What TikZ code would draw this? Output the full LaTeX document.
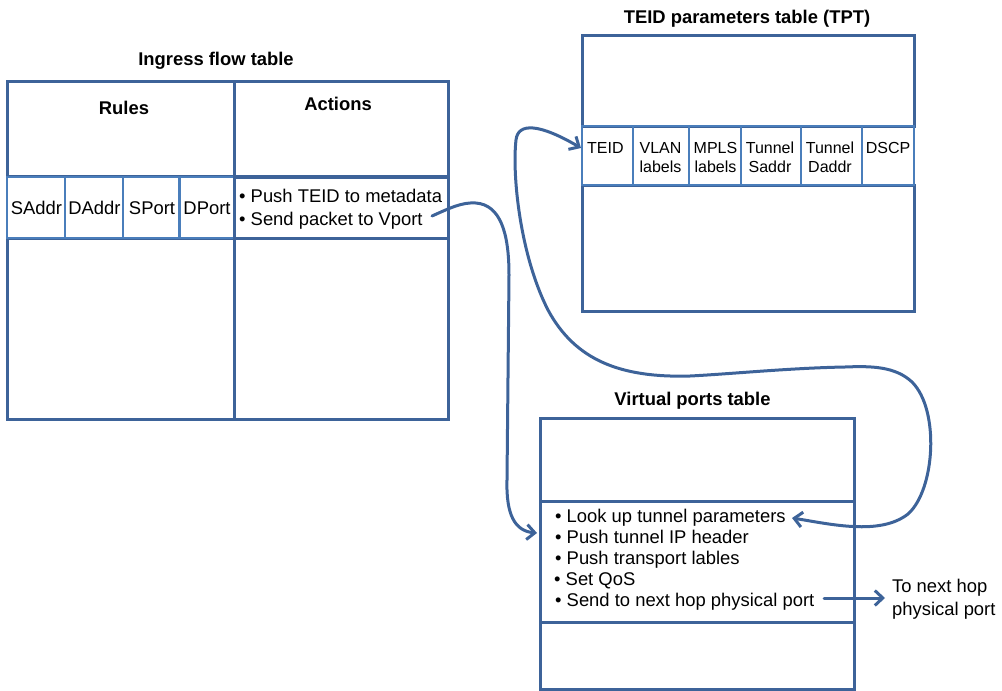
\documentclass[tikz,border=0pt]{standalone}
\usepackage{fontspec}
\setmainfont{Liberation Sans}
\usetikzlibrary{arrows.meta}
\definecolor{dk}{RGB}{61,99,153}
\definecolor{lt}{RGB}{74,126,187}
\begin{document}
\begin{tikzpicture}[x=1pt,y=-1pt,
  box/.style={draw=dk,line width=3pt,inner sep=0pt,outer sep=0pt,anchor=north west},
  cell/.style={draw=lt,line width=2.8pt,inner sep=0pt,outer sep=0pt,anchor=north west},
  big/.style={font=\fontsize{18.4}{21}\selectfont,inner sep=0pt},
  bigb/.style={font=\fontsize{18.4}{21}\selectfont\bfseries,inner sep=0pt},
  small/.style={font=\fontsize{16}{19}\selectfont,inner sep=0pt},
  conn/.style={draw=dk,line width=3pt,line cap=round},
  barb/.tip={Straight Barb[length=8pt,width=15pt]}]
\useasboundingbox (0,0) rectangle (1002,691);

% ---------- Ingress flow table ----------
\node[bigb,anchor=base] (ingt) at (216,65) {Ingress flow table};
\node[box,minimum width=227pt,minimum height=95pt] (rules) at (7,81) {};
\node[box,minimum width=214pt,minimum height=95pt] (actions) at (234,81) {};
\node[box,minimum width=214pt,minimum height=61pt] (actcell) at (234,177) {};
\node[box,minimum width=227pt,minimum height=181pt] (ingl) at (7,238) {};
\node[box,minimum width=214pt,minimum height=181pt] (ingr) at (234,238) {};
\node[cell,minimum width=58pt,minimum height=61pt] (c1) at (7,177) {};
\node[cell,minimum width=58pt,minimum height=61pt] (c2) at (65,177) {};
\node[cell,minimum width=56pt,minimum height=61pt] (c3) at (123,177) {};
\node[cell,minimum width=54pt,minimum height=61pt] (c4) at (180,177) {};
\draw[dk,line width=3pt] (234,81) -- (234,419);

\node[bigb,anchor=base] (rulest) at (124,114) {Rules};
\node[bigb,anchor=base] (actionst) at (338,110.5) {Actions};
\node[big,anchor=base] (saddr) at (36.5,214) {SAddr};
\node[big,anchor=base] (daddr) at (94.5,214) {DAddr};
\node[big,anchor=base] (sport) at (152,214) {SPort};
\node[big,anchor=base] (dport) at (207,214) {DPort};
\node[big,anchor=base west] (push) at (239,202.5) {• Push TEID to metadata};
\node[big,anchor=base west] (send) at (239,225) {• Send packet to Vport};

% ---------- TEID parameters table ----------
\node[bigb,anchor=base] (tptt) at (747,23.5) {TEID parameters table (TPT)};
\node[box,minimum width=332pt,minimum height=91pt] (tpttop) at (582,35) {};
\node[box,minimum width=332pt,minimum height=126pt] (tptbot) at (582,185) {};
\node[cell,minimum width=51pt,minimum height=59pt] (t1) at (582,126) {};
\node[cell,minimum width=56pt,minimum height=59pt] (t2) at (633,126) {};
\node[cell,minimum width=52pt,minimum height=59pt] (t3) at (689,126) {};
\node[cell,minimum width=60pt,minimum height=59pt] (t4) at (741,126) {};
\node[cell,minimum width=61pt,minimum height=59pt] (t5) at (801,126) {};
\node[cell,minimum width=52pt,minimum height=59pt] (t6) at (862,126) {};
\node[small,anchor=base west] (teid) at (587,153) {TEID};
\node[small,anchor=base] (vlan1) at (660.5,153) {VLAN};
\node[small,anchor=base] (vlan2) at (660.5,172.5) {labels};
\node[small,anchor=base] (mpls1) at (715.5,153) {MPLS};
\node[small,anchor=base] (mpls2) at (715.5,172.5) {labels};
\node[small,anchor=base] (ts1) at (770,153) {Tunnel};
\node[small,anchor=base] (ts2) at (770,172.5) {Saddr};
\node[small,anchor=base] (td1) at (830,153) {Tunnel};
\node[small,anchor=base] (td2) at (830,172.5) {Daddr};
\node[small,anchor=base] (dscp) at (888,153) {DSCP};

% ---------- Virtual ports table ----------
\node[bigb,anchor=base] (vpt) at (692.5,405) {Virtual ports table};
\node[box,minimum width=314pt,minimum height=83pt] (vptop) at (540,418) {};
\node[box,minimum width=314pt,minimum height=121pt] (vpmid) at (540,501) {};
\node[box,minimum width=314pt,minimum height=67pt] (vpbot) at (540,622) {};
\node[big,anchor=base west] (b1) at (555,522) {• Look up tunnel parameters};
\node[big,anchor=base west] (b2) at (555,543) {• Push tunnel IP header};
\node[big,anchor=base west] (b3) at (555,564) {• Push transport lables};
\node[big,anchor=base west] (b4) at (554,585) {• Set QoS};
\node[big,anchor=base west] (b5) at (555,606) {• Send to next hop physical port};
\node[big,anchor=base west] (nh1) at (892,592) {To next hop};
\node[big,anchor=base west] (nh2) at (892,615) {physical port};

% ---------- connectors ----------
\coordinate (vportOut) at (432,216);
\coordinate (vpIn) at (537,533);
\coordinate (lookTip) at (792,518);
\coordinate (teidTip) at (581,148);
\coordinate (sendOut) at (824,598);
\coordinate (nhIn) at (885,598);

\draw[conn,-{barb}] (vportOut) .. controls (450,208) and (462,202) .. (476,203)
  .. controls (500,205) and (509,232) .. (509,275) -- (507,480)
  .. controls (506,515) and (515,531) .. (vpIn);

\draw[conn,{barb}-{barb}] (lookTip) .. controls (830,524) and (880,536) .. (908,514)
  .. controls (935,490) and (940,410) .. (912,382)
  .. controls (895,366) and (870,366) .. (845,367)
  .. controls (790,368) and (730,374) .. (690,376)
  .. controls (620,378) and (575,360) .. (548,310)
  .. controls (520,255) and (512,175) .. (516,140)
  .. controls (518,122) and (540,124) .. (teidTip);

\draw[conn,-{barb}] (sendOut) -- (nhIn);
\end{tikzpicture}
\end{document}
